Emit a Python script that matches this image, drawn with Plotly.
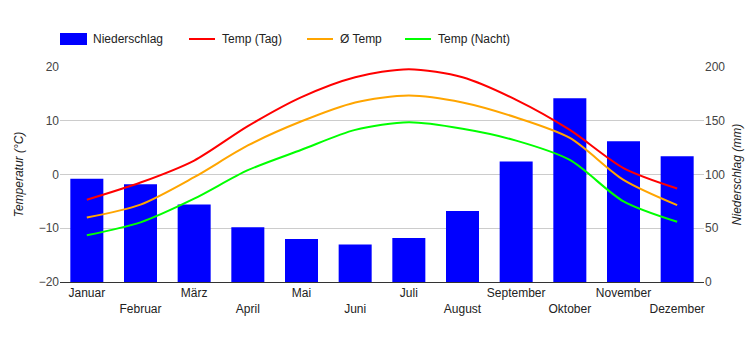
import plotly.graph_objects as go

months = ["Januar", "Februar", "März", "April", "Mai", "Juni", "Juli",
          "August", "September", "Oktober", "November", "Dezember"]
niederschlag = [96, 91, 72, 51, 40, 35, 41, 66, 112, 171, 131, 117]
temp_tag = [-4.7, -1.5, 2.6, 9.0, 14.4, 18.1, 19.6, 18.1, 13.9, 8.3, 1.2, -2.6]
temp_avg = [-8.0, -5.6, -0.5, 5.4, 9.9, 13.4, 14.7, 13.4, 10.6, 6.8, -1.0, -5.7]
temp_nacht = [-11.3, -8.9, -4.5, 0.8, 4.6, 8.3, 9.7, 8.5, 6.3, 2.7, -5.0, -8.8]
tick_labels = [m if i % 2 == 0 else "<br>" + m for i, m in enumerate(months)]

font = "Liberation Sans, Arial, sans-serif"
W, H = 750, 350
ML, MR, MT, MB = 60, 46, 67, 68
PW, PH = W - ML - MR, H - MT - MB

def px(x):
    return (x - ML) / PW

def py(y):
    return (H - MB - y) / PH

fig = go.Figure()
fig.add_trace(go.Bar(x=months, y=niederschlag, name="Niederschlag",
                     marker=dict(color="#0000ff", line=dict(width=0)), yaxis="y"))
series = [("Temp (Tag)", temp_tag, "#ff0000"),
          ("Ø Temp", temp_avg, "#ffa500"),
          ("Temp (Nacht)", temp_nacht, "#00ff00")]
for name, vals, col in series:
    fig.add_trace(go.Scatter(x=months, y=vals, name=name, mode="lines",
                             line=dict(color=col, width=2, shape="spline", smoothing=0.8),
                             yaxis="y2"))

# custom legend (matches the reference layout)
LY = 39
shapes = [dict(type="rect", xref="paper", yref="paper", x0=px(60), x1=px(87),
               y0=py(LY + 6), y1=py(LY - 6), fillcolor="#0000ff", line=dict(width=0))]
annots = [dict(text="Niederschlag", xref="paper", yref="paper", x=px(91), y=py(LY),
               xanchor="left", yanchor="middle", showarrow=False,
               font=dict(size=12, color="#222"))]
legend_pos = [(189, 220), (307, 338), (405, 436)]
for (name, _, col), (lx, tx) in zip(series, legend_pos):
    shapes.append(dict(type="line", xref="paper", yref="paper", x0=px(lx), x1=px(lx + 26),
                       y0=py(LY), y1=py(LY), line=dict(color=col, width=2)))
    annots.append(dict(text=name, xref="paper", yref="paper", x=px(tx), y=py(LY),
                       xanchor="left", yanchor="middle", showarrow=False,
                       font=dict(size=12, color="#222")))

fig.update_layout(
    width=W, height=H,
    margin=dict(l=ML, r=MR, t=MT, b=MB),
    paper_bgcolor="white", plot_bgcolor="white",
    font=dict(family=font, size=12, color="#222"),
    bargap=0.385,
    showlegend=False,
    shapes=shapes, annotations=annots,
    xaxis=dict(tickmode="array", tickvals=months, ticktext=tick_labels,
               showgrid=False, showline=True, linecolor="#333", linewidth=1,
               ticks="", tickangle=0, automargin=False,
               tickfont=dict(size=12, color="#222")),
    yaxis=dict(side="right", range=[0, 200], dtick=50, showgrid=True,
               gridcolor="#cccccc", zeroline=False, ticks="", automargin=False,
               title=dict(text="<i>Niederschlag (mm)</i>", font=dict(size=12, color="#222"), standoff=8),
               tickfont=dict(size=12, color="#444")),
    yaxis2=dict(side="left", overlaying="y", range=[-20, 20], dtick=10, showgrid=False,
                zeroline=False, ticks="", automargin=False,
                title=dict(text="<i>Temperatur (°C)</i>", font=dict(size=12, color="#222"), standoff=12),
                tickfont=dict(size=12, color="#444")),
)

fig.write_html("out.html")
